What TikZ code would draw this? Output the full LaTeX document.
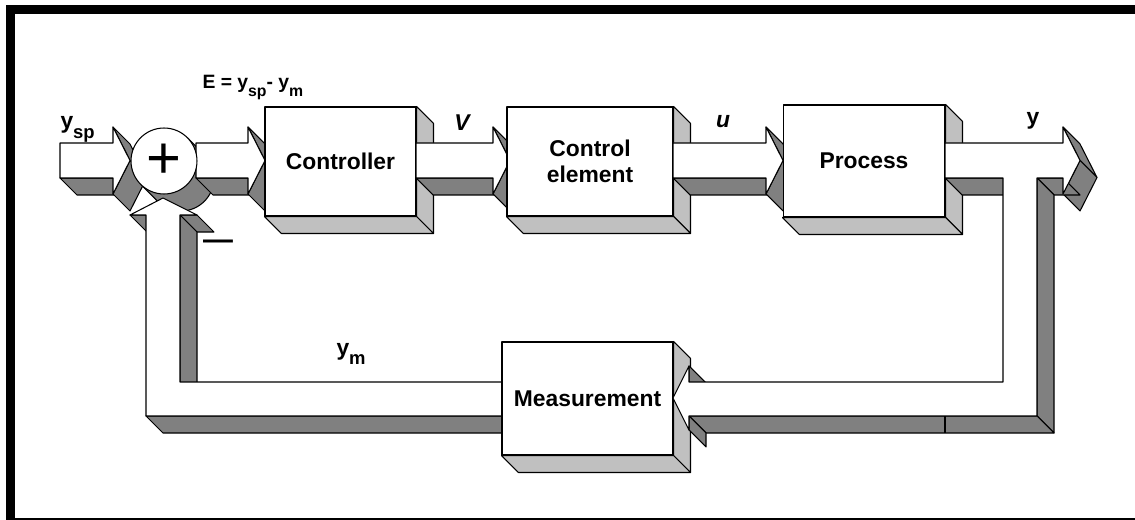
\documentclass[tikz,border=0pt]{standalone}
\usepackage{fontspec}
\setmainfont{Liberation Sans}
\usetikzlibrary{calc}

\definecolor{shadeD}{HTML}{808080}
\definecolor{shadeL}{HTML}{C0C0C0}

\newcommand\blockfont{\fontsize{13}{15}\selectfont\bfseries}
\newcommand\subsm[1]{\raisebox{-4pt}{\fontsize{9}{9}\selectfont #1}}
\newcommand\sublg[1]{\raisebox{-5.5pt}{\fontsize{10.5}{10.5}\selectfont #1}}

% right-pointing extruded flow arrow: start x, tip x, centre y
\newcommand\flowarrow[3]{%
  \pgfmathsetmacro\fa{#3-17.5}%
  \pgfmathsetmacro\fb{#3+17.5}%
  \pgfmathsetmacro\fc{#3-33.5}%
  \pgfmathsetmacro\fd{#3+33.5}%
  \pgfmathsetmacro\fh{#2-17}%
  \filldraw[darkface] (#1,\fb) -- (\fh,\fb) -- (\fh+17,\fb+17) -- (#1+17,\fb+17) -- cycle;
  \filldraw[darkface] (\fh,\fc) -- (#2,#3) -- (#2+17,#3+17) -- (\fh+17,\fc+17) -- cycle;
  \filldraw[darkface] (#2,#3) -- (\fh,\fd) -- (\fh+17,\fd+17) -- (#2+17,#3+17) -- cycle;
  \filldraw[frontface] (#1,\fa) -- (\fh,\fa) -- (\fh,\fc) -- (#2,#3) -- (\fh,\fd) -- (\fh,\fb) -- (#1,\fb) -- cycle;
}

% side and bottom faces of a block
\newcommand\blocksides[1]{%
  \filldraw[lightface] (#1.north east) -- ++(17,17) -- ($(#1.south east)+(17,17)$) -- (#1.south east) -- cycle;
  \filldraw[lightface] (#1.south west) -- (#1.south east) -- ++(17,17) -- ($(#1.south west)+(17,17)$) -- cycle;
}

\begin{document}
\begin{tikzpicture}[x=0.02cm, y=-0.02cm, line width=0.6pt, line join=round,
  darkface/.style={fill=shadeD, draw=black},
  lightface/.style={fill=shadeL, draw=black},
  frontface/.style={fill=white, draw=black},
  block/.style={draw=black, fill=white, inner sep=0pt, font=\blockfont, align=center},
  lbl/.style={inner sep=0pt, font=\blockfont}]

% canvas and frame
\fill[white] (0,0) rectangle (1135,520);
\useasboundingbox (0,0) rectangle (1135,520);
\fill[black] (6,5) rectangle (1135,14);
\fill[black] (6,5) rectangle (15,520);
\fill[black] (6,518) rectangle (1135,520);

% set point input
\flowarrow{60}{130}{160.5}

% depth of the summing junction
\filldraw[darkface] (181,178) circle[radius=33];
\fill[shadeD] (187.33,137.67) -- (204.33,154.67) -- (157.67,201.33) -- (140.67,184.33) -- cycle;
\draw (187.33,137.67) -- (204.33,154.67) (140.67,184.33) -- (157.67,201.33);

% feedback path entering the junction from below
\filldraw[darkface] (180,215) -- (197,215) -- (214,232) -- (197,232) -- cycle;
\filldraw[darkface] (130,215) -- (146,215) -- (163,232) -- (147,232) -- cycle;
\filldraw[darkface] (180,215) -- (180,382) -- (197,399) -- (197,232) -- cycle;
\filldraw[darkface] (146,416) -- (502,416) -- (519,433) -- (163,433) -- cycle;
\filldraw[frontface] (502,382) -- (180,382) -- (180,215) -- (197,215) -- (163,198)
  -- (130,215) -- (146,215) -- (146,416) -- (502,416) -- cycle;

% error signal
\flowarrow{196}{265}{160.5}

\node[circle, draw=black, fill=white, minimum size=1.32cm, inner sep=0pt,
  font=\fontsize{34}{34}\selectfont] (sum) at (164,161) {+};
\node[inner sep=0pt, font=\fontsize{17}{17}\selectfont\bfseries] (minus) at (218,245) {\textemdash};

% forward path
\node[block, minimum width=3.02cm, minimum height=2.18cm] (ctrl) at (340.5,161.5) {Controller};
\blocksides{ctrl}
\flowarrow{416}{510}{160.5}

\node[block, minimum width=3.32cm, minimum height=2.18cm] (elem) at (590,161.5) {Control\\element};
\blocksides{elem}
\flowarrow{673}{783}{160.5}

\node[block, minimum width=3.24cm, minimum height=2.24cm] (proc) at (864,161) {Process};
\blocksides{proc}

\node[block, minimum width=3.42cm, minimum height=2.26cm] (meas) at (587.5,398.5) {Measurement};
\blocksides{meas}

% output with the branch back to the measurement block
\filldraw[darkface] (945,178) -- (1003,178) -- (1020,195) -- (962,195) -- cycle;
\filldraw[darkface] (1063,127) -- (1080,160.5) -- (1097,177.5) -- (1080,144) -- cycle;
\filldraw[darkface] (1080,160.5) -- (1063,194) -- (1080,211) -- (1097,177.5) -- cycle;
\filldraw[darkface] (1037,178) -- (1063,178) -- (1080,195) -- (1054,195) -- cycle;
\filldraw[darkface] (1037,178) -- (1037,416) -- (1054,433) -- (1054,195) -- cycle;
\filldraw[darkface] (689,416) -- (1037,416) -- (1054,433) -- (706,433) -- cycle;
\filldraw[darkface] (689,416) -- (689,430) -- (706,447) -- (706,433) -- cycle;
\filldraw[darkface] (689,366) -- (689,382) -- (706,399) -- (706,383) -- cycle;
\filldraw[frontface] (945,143) -- (1063,143) -- (1063,127) -- (1080,160.5) -- (1063,194)
  -- (1063,178) -- (1037,178) -- (1037,416) -- (689,416) -- (689,430) -- (673,398)
  -- (689,366) -- (689,382) -- (1003,382) -- (1003,178) -- (945,178) -- cycle;
\draw (945,416) -- (945,433);

% signal labels
\node[lbl, font=\fontsize{11}{11}\selectfont\bfseries, anchor=base west] (err) at (202,89)
  {E = y\subsm{sp}- y\subsm{m}};
\node[lbl, anchor=base west] (ysp) at (60,129) {y\sublg{sp}};
\node[lbl, font=\blockfont\itshape, anchor=base] (vlab) at (462,131) {V};
\node[lbl, font=\blockfont\itshape, anchor=base] (ulab) at (723,128) {u};
\node[lbl, anchor=base] (ylab) at (1033,125) {y};
\node[lbl, anchor=base west] (ym) at (336,355) {y\sublg{m}};
\end{tikzpicture}
\end{document}
